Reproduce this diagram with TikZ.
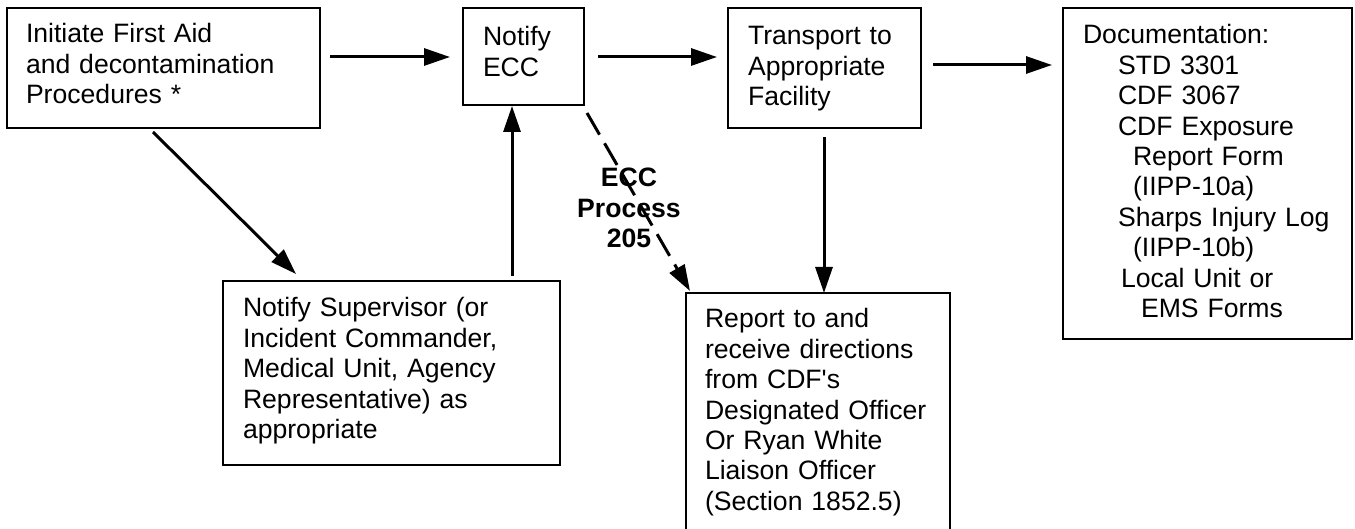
\documentclass[tikz,border=0pt]{standalone}
\usepackage{fontspec}
\setmainfont{Liberation Sans}
\usetikzlibrary{arrows.meta}
\begin{document}
\begin{tikzpicture}[x=0.5pt,y=-0.5pt,
  box/.style={draw, line width=1pt, rectangle, anchor=north west, outer sep=0pt,
    inner ysep=0pt, align=left, font=\fontsize{13.3pt}{15.2pt}\selectfont},
  arr/.style={line width=1.5pt, -{Triangle[length=13pt,width=8.5pt]}},
  dashedarr/.style={arr, dash pattern=on 12.5pt off 5pt},
  lbltext/.style={font=\bfseries\fontsize{13.3pt}{15.2pt}\selectfont, align=center,
    text width=60pt, inner sep=0pt, anchor=base}
]
\useasboundingbox (0,0) rectangle (1355,529);

\node[box, inner xsep=9.5pt, text width=137.5pt, text height=17.5pt, text depth=42.5pt]
  (A) at (7,8) {Initiate First Aid\\and decontamination\\Procedures *};
\node[box, inner xsep=10pt, text width=40.5pt, text height=19pt, text depth=29.5pt]
  (B) at (463,8) {Notify\\ECC};
\node[box, inner xsep=10pt, text width=76.5pt, text height=18.5pt, text depth=41.5pt]
  (C) at (728,8) {Transport to\\Appropriate\\Facility};
\node[box, inner xsep=10pt, text width=124.5pt, text height=18pt, text depth=147.5pt]
  (D) at (1063,8) {Documentation:\\
  \hspace*{17.5pt}STD 3301\\
  \hspace*{17.5pt}CDF 3067\\
  \hspace*{17.5pt}CDF Exposure\\
  \hspace*{25pt}Report Form\\
  \hspace*{25pt}(IIPP-10a)\\
  \hspace*{17.5pt}Sharps Injury Log\\
  \hspace*{25pt}(IIPP-10b)\\
  \hspace*{19pt}Local Unit or\\
  \hspace*{29pt}EMS Forms};
\node[box, inner xsep=9.5pt, text width=113pt, text height=17.5pt, text depth=108.5pt]
  (E) at (686,293) {Report to and\\receive directions\\from CDF\textquotesingle s\\Designated Officer\\Or Ryan White\\Liaison Officer\\(Section 1852.5)};
\node[box, inner xsep=10pt, text width=148.5pt, text height=18pt, text depth=74pt]
  (F) at (223,281) {Notify Supervisor (or\\Incident Commander,\\Medical Unit, Agency\\Representative) as\\appropriate};

\node[lbltext] (lbl) at (629,187) {ECC\\Process\\205};

\draw[arr] ([shift={(10,49)}]A.north east) -- ([shift={(-13,49)}]B.north west);
\draw[arr] ([shift={(14,49)}]B.north east) -- ([shift={(-11,49)}]C.north west);
\draw[arr] ([shift={(12,57)}]C.north east) -- ([shift={(-11,57)}]D.north west);
\draw[arr] ([shift={(146,4)}]A.south west) -- ([shift={(73,-7)}]F.north west);
\draw[arr] ([shift={(289,-5)}]F.north west) -- ([shift={(49,1)}]B.south west);
\draw[arr] ([shift={(96,9)}]C.south west) -- ([shift={(138,0)}]E.north west);
\draw[dashedarr] ([shift={(3,8)}]B.south east) -- ([shift={(4,-2)}]E.north west);
\end{tikzpicture}
\end{document}
